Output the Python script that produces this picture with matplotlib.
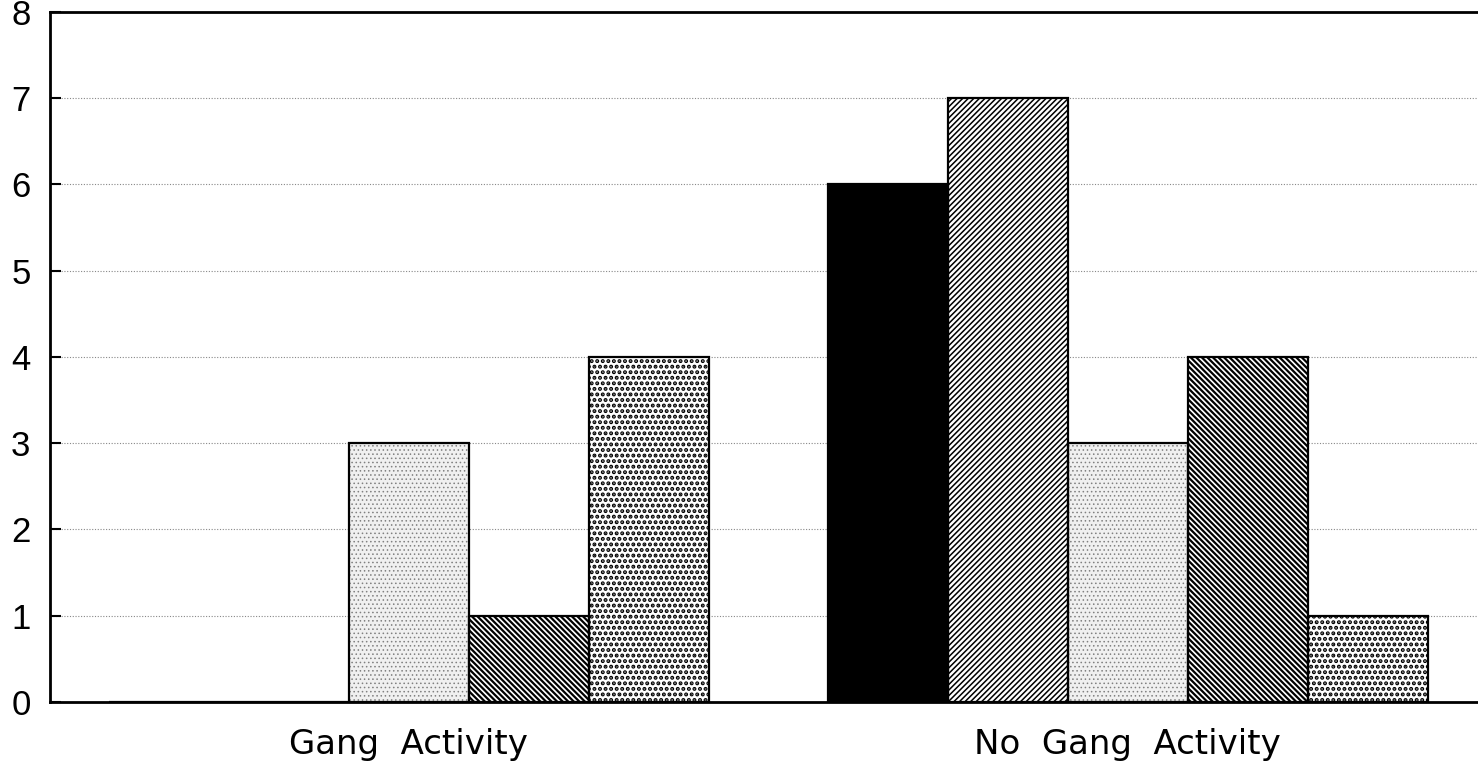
import matplotlib.pyplot as plt
import numpy as np

plt.rcParams['font.family'] = ['Liberation Sans', 'DejaVu Sans']

# Data
groups = ["Gang  Activity", "No  Gang  Activity"]
gang = [0, 0, 3, 1, 4]
no_gang = [6, 7, 3, 4, 1]
yticks = [0, 1, 2, 3, 4, 5, 6, 7, 8]

faces = ["black", "white", "#f0f0f0", "white", "white"]
hatches = [None, "//////", "....", "\\\\\\\\\\\\", "..."]
hatch_cols = ["black", "black", "#808080", "black", "black"]
hatch_lw = [1.0, 1.1, 0.6, 1.6, 2.0]

fig = plt.figure(figsize=(14.78, 7.65), dpi=100)
ax = fig.add_axes([0.0338, 0.0824, 0.9662, 0.9019])

x = np.arange(len(groups))
w = 0.1669
for i in range(5):
    vals = [gang[i], no_gang[i]]
    pos = x + (i - 2) * w
    with plt.rc_context({"hatch.linewidth": hatch_lw[i]}):
        ax.bar(pos, vals, w, color=faces[i], hatch=hatches[i],
               edgecolor=hatch_cols[i], linewidth=0, zorder=2)
    ax.bar(pos, vals, w, fill=False, edgecolor="black", linewidth=1.6, zorder=3)

ax.set_xlim(-0.4993, 1.487)
ax.set_ylim(0, 8)
ax.set_yticks(yticks)
ax.yaxis.grid(True, linestyle=(0, (1, 1.5)), color="#888888", linewidth=0.8)
ax.set_axisbelow(True)

ax.set_xticks(x)
ax.set_xticklabels(groups, fontsize=24.5, family="DejaVu Sans")
ax.tick_params(axis="x", direction="in", length=14, width=1.5, pad=19)
ax.tick_params(axis="y", direction="in", length=8, width=1.5, labelsize=25, pad=14)

for s in ["left", "top", "bottom"]:
    ax.spines[s].set_linewidth(2)
ax.spines["right"].set_visible(False)

fig.savefig("out.png", dpi=100)
